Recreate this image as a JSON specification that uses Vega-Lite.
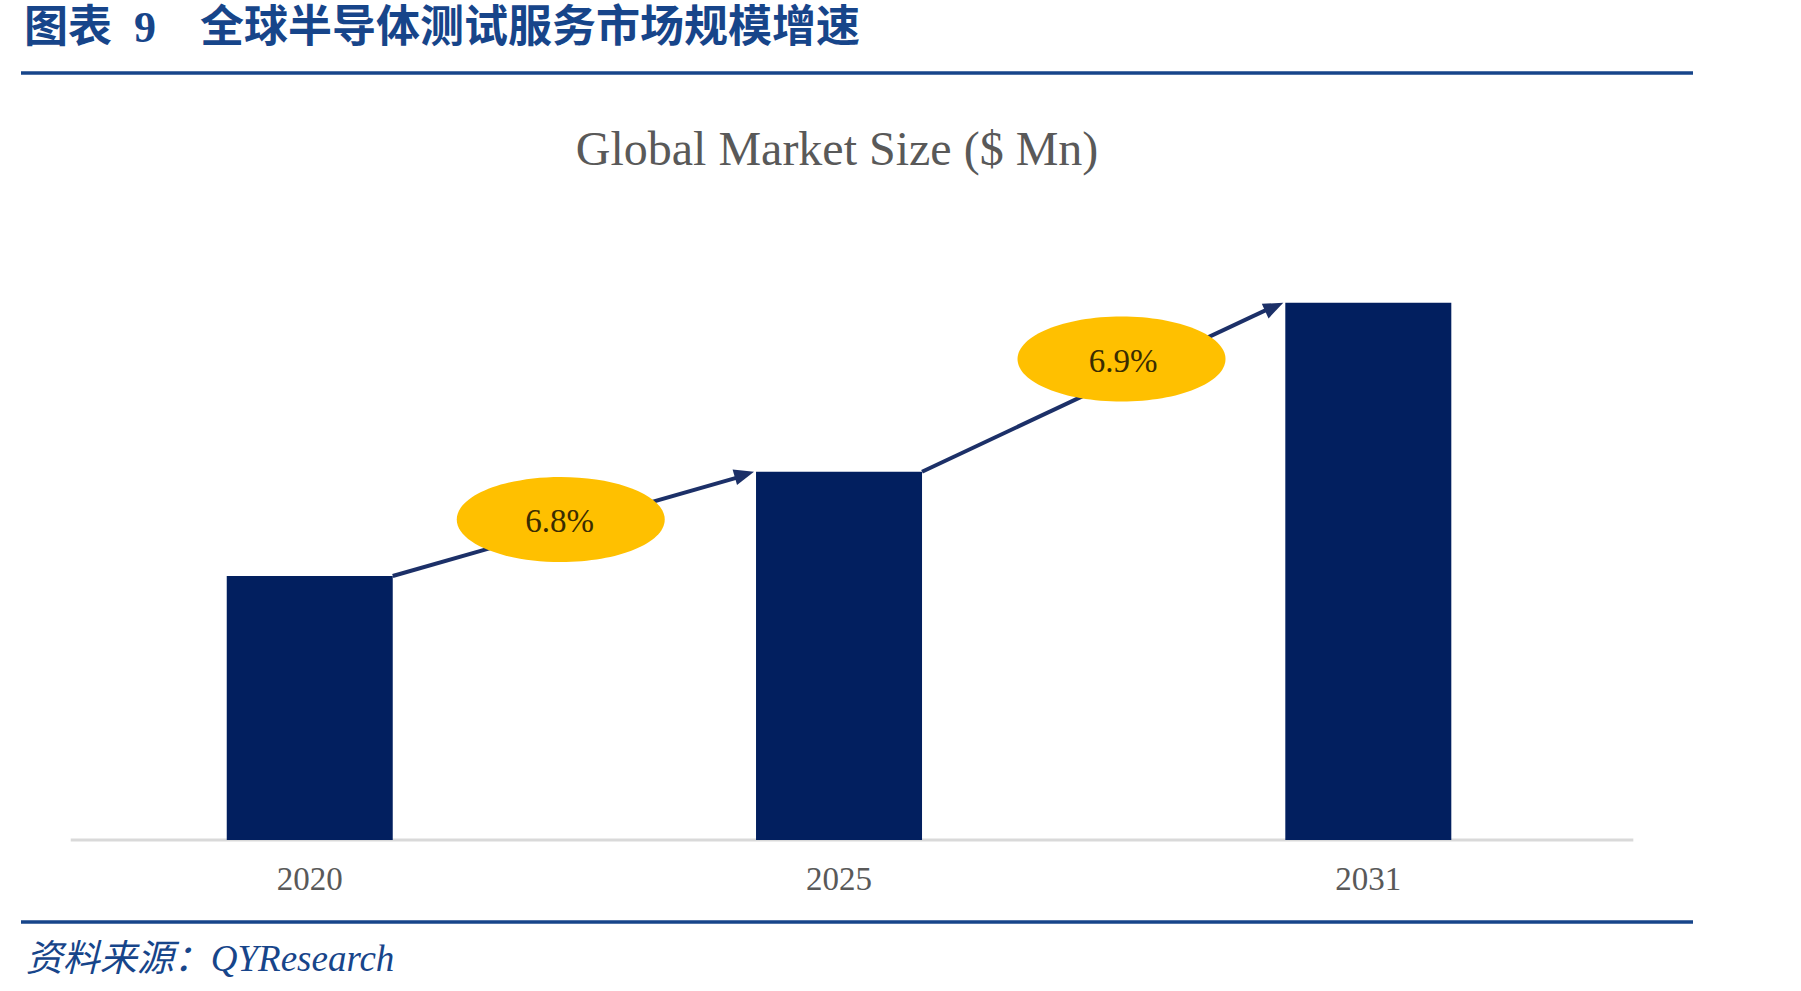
{
  "$schema": "https://vega.github.io/schema/vega-lite/v6.json",
  "width": 1672,
  "height": 849,
  "autosize": {"type": "none"},
  "padding": {"left": 21, "top": 73, "right": 108, "bottom": 69},
  "background": "white",
  "config": {"view": {"stroke": null}},
  "title": {
    "text": "图表\u00a0\u00a09\u00a0\u00a0\u00a0\u00a0全球半导体测试服务市场规模增速",
    "anchor": "start",
    "frame": "group",
    "orient": "top",
    "font": "Liberation Serif, Noto Sans CJK SC",
    "fontSize": 44,
    "fontWeight": "bold",
    "color": "#17458A",
    "baseline": "alphabetic",
    "offset": 27,
    "dx": 3,
    "dy": 42
  },
  "datasets": {
    "bars": [
      {"year": "2020", "value": 264},
      {"year": "2025", "value": 368.3},
      {"year": "2031", "value": 537.3}
    ],
    "growth": [
      {"from": "2020", "to": "2025", "cagr": "6.8%"},
      {"from": "2025", "to": "2031", "cagr": "6.9%"}
    ],
    "notes": [
      {"chart_title": "Global Market Size ($ Mn)", "source": "资料来源：QYResearch"}
    ]
  },
  "layer": [
    {
      "data": {"name": "notes"},
      "layer": [
        {
          "mark": {"type": "rule", "color": "#17458A", "strokeWidth": 3.5},
          "encoding": {"y": {"datum": 767, "type": "quantitative", "axis": null}}
        },
        {
          "mark": {"type": "rule", "color": "#17458A", "strokeWidth": 3.5},
          "encoding": {"y": {"datum": -82, "type": "quantitative", "axis": null}}
        },
        {
          "mark": {"type": "rule", "color": "#D9D9D9", "strokeWidth": 3, "xOffset": -239, "x2Offset": 265},
          "encoding": {
            "x": {"datum": "2020", "type": "ordinal", "axis": null},
            "x2": {"datum": "2031"},
            "y": {"datum": 0, "type": "quantitative", "axis": null}
          }
        },
        {
          "mark": {"type": "text", "font": "Liberation Serif", "fontSize": 48, "color": "#595959", "align": "center", "baseline": "alphabetic", "dx": -2, "dy": 92},
          "encoding": {
            "x": {"datum": "2025", "type": "ordinal", "axis": null},
            "y": {"datum": 767, "type": "quantitative", "axis": null},
            "text": {"field": "chart_title"}
          }
        },
        {
          "mark": {"type": "text", "font": "Liberation Serif, Noto Sans CJK SC", "fontStyle": "italic", "fontSize": 37, "color": "#17458A", "align": "left", "baseline": "alphabetic", "dx": -284, "dy": 49},
          "encoding": {
            "x": {"datum": "2020", "type": "ordinal", "axis": null},
            "y": {"datum": -82, "type": "quantitative", "axis": null},
            "text": {"field": "source"}
          }
        }
      ]
    },
    {
      "data": {"name": "bars"},
      "layer": [
        {
          "mark": {"type": "bar", "width": 166, "color": "#021F5F"},
          "encoding": {
            "x": {
              "field": "year",
              "type": "ordinal",
              "scale": {"type": "point", "domain": ["2020", "2025", "2031"], "padding": 0.5795, "align": 0.4707},
              "axis": null
            },
            "y": {"field": "value", "type": "quantitative", "scale": {"domain": [-82, 767], "nice": false}, "axis": null},
            "y2": {"datum": 0}
          }
        },
        {
          "mark": {"type": "text", "dy": 40, "font": "Liberation Serif", "fontSize": 33, "color": "#595959", "baseline": "middle", "align": "center"},
          "encoding": {
            "x": {"field": "year", "type": "ordinal", "axis": null},
            "y": {"datum": 0, "type": "quantitative", "axis": null},
            "text": {"field": "year"}
          }
        }
      ]
    },
    {
      "data": {"name": "growth"},
      "transform": [
        {"lookup": "from", "from": {"data": {"name": "bars"}, "key": "year", "fields": ["value"]}, "as": ["from_value"]},
        {"lookup": "to", "from": {"data": {"name": "bars"}, "key": "year", "fields": ["value"]}, "as": ["to_value"]}
      ],
      "layer": [
        {
          "mark": {"type": "rule", "color": "#1C3068", "strokeWidth": 4, "xOffset": 83, "x2Offset": -95, "y2Offset": 4},
          "encoding": {
            "x": {"field": "from", "type": "ordinal", "axis": null},
            "x2": {"field": "to"},
            "y": {"field": "from_value", "type": "quantitative", "axis": null},
            "y2": {"field": "to_value"}
          }
        },
        {
          "transform": [{"filter": "datum.from === '2020'"}],
          "layer": [
            {
              "mark": {"type": "point", "shape": "M-1,0C-1,-0.2259,-0.5523,-0.409,0,-0.409C0.5523,-0.409,1,-0.2259,1,0C1,0.2259,0.5523,0.409,0,0.409C-0.5523,0.409,-1,0.2259,-1,0Z", "size": 43264, "filled": true, "fill": "#FFC000", "opacity": 1, "strokeWidth": 0, "xOffset": 251, "yOffset": -56.5},
              "encoding": {
                "x": {"field": "from", "type": "ordinal", "axis": null},
                "y": {"field": "from_value", "type": "quantitative", "axis": null}
              }
            },
            {
              "mark": {"type": "text", "font": "Liberation Serif", "fontSize": 33, "color": "#3A2C00", "baseline": "middle", "align": "center", "dx": 250, "dy": -54},
              "encoding": {
                "x": {"field": "from", "type": "ordinal", "axis": null},
                "y": {"field": "from_value", "type": "quantitative", "axis": null},
                "text": {"field": "cagr"}
              }
            },
            {
              "mark": {"type": "point", "shape": "M0,0L-2,-0.8L-2,0.8Z", "size": 400, "filled": true, "fill": "#1C3068", "opacity": 1, "strokeWidth": 0, "angle": 343.9, "xOffset": -85},
              "encoding": {
                "x": {"field": "to", "type": "ordinal", "axis": null},
                "y": {"field": "to_value", "type": "quantitative", "axis": null}
              }
            }
          ]
        },
        {
          "transform": [{"filter": "datum.from === '2025'"}],
          "layer": [
            {
              "mark": {"type": "point", "shape": "M-1,0C-1,-0.2259,-0.5523,-0.409,0,-0.409C0.5523,-0.409,1,-0.2259,1,0C1,0.2259,0.5523,0.409,0,0.409C-0.5523,0.409,-1,0.2259,-1,0Z", "size": 43264, "filled": true, "fill": "#FFC000", "opacity": 1, "strokeWidth": 0, "xOffset": 282.5, "yOffset": -112.7},
              "encoding": {
                "x": {"field": "from", "type": "ordinal", "axis": null},
                "y": {"field": "from_value", "type": "quantitative", "axis": null}
              }
            },
            {
              "mark": {"type": "text", "font": "Liberation Serif", "fontSize": 33, "color": "#3A2C00", "baseline": "middle", "align": "center", "dx": 284, "dy": -110},
              "encoding": {
                "x": {"field": "from", "type": "ordinal", "axis": null},
                "y": {"field": "from_value", "type": "quantitative", "axis": null},
                "text": {"field": "cagr"}
              }
            },
            {
              "mark": {"type": "point", "shape": "M0,0L-2,-0.8L-2,0.8Z", "size": 400, "filled": true, "fill": "#1C3068", "opacity": 1, "strokeWidth": 0, "angle": 335.1, "xOffset": -85},
              "encoding": {
                "x": {"field": "to", "type": "ordinal", "axis": null},
                "y": {"field": "to_value", "type": "quantitative", "axis": null}
              }
            }
          ]
        }
      ]
    }
  ]
}
